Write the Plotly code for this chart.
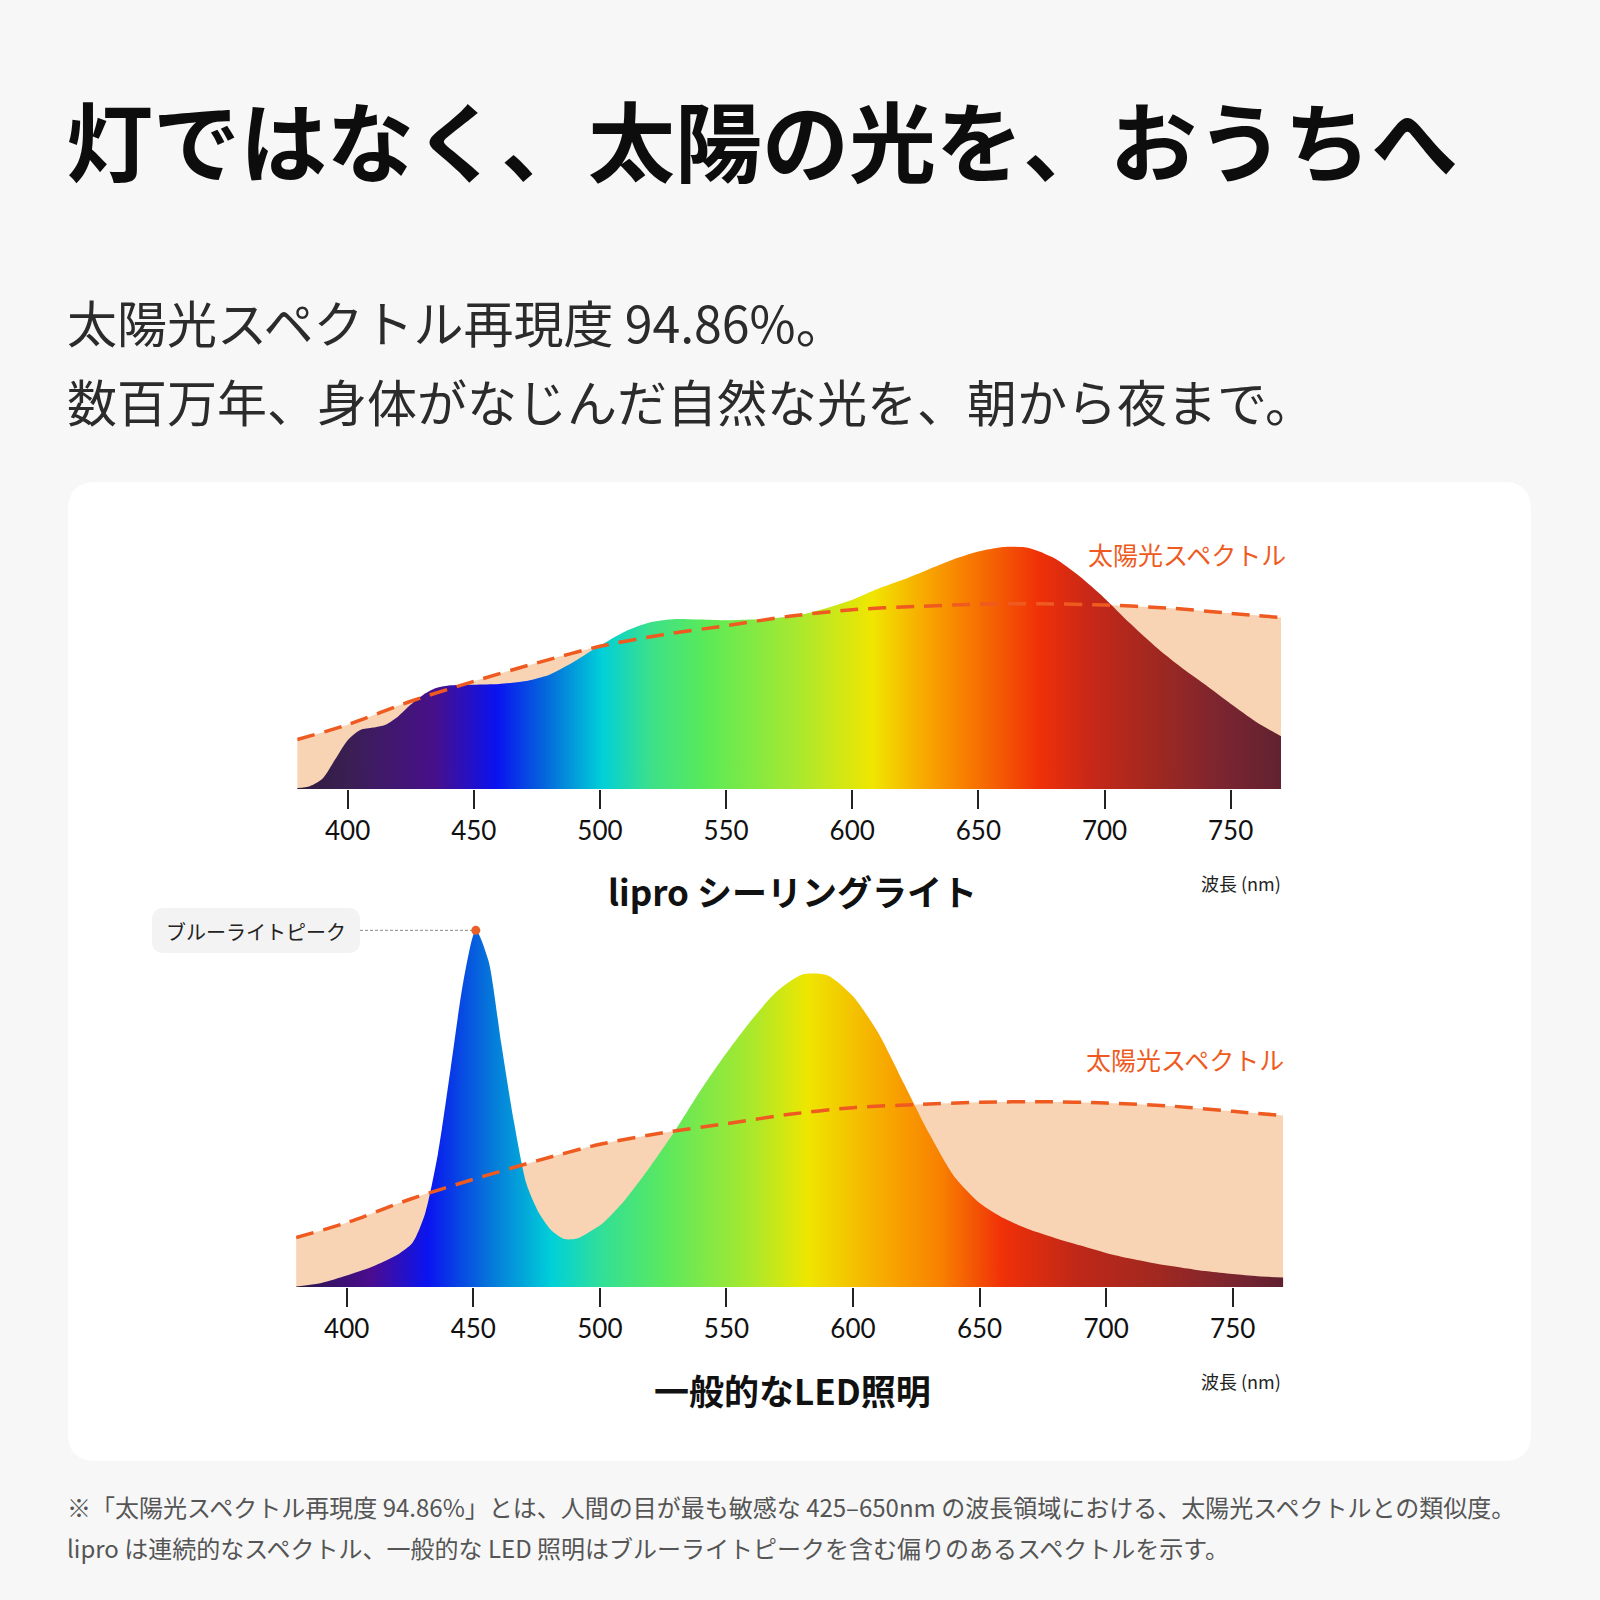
import plotly.graph_objects as go

# ---------------- data ----------------
wl_sun = [380, 400, 425, 450, 475, 500, 525, 550, 575, 600, 625, 650, 675, 700, 725, 750, 770]
sun = [26.8, 34.9, 47.6, 58.4, 68.4, 77.4, 83.7, 88.6, 93.7, 97.3, 99.0, 100.2, 100.5, 99.8, 98.2, 95.3, 93.0]

wl_lipro = [380, 385, 390, 395, 400, 405, 410, 415, 420, 425, 430, 435, 440, 450, 460, 470, 480, 490,
            500, 510, 520, 530, 540, 550, 560, 570, 580, 590, 600, 610, 620, 630, 640, 650, 660,
            670, 680, 690, 700, 710, 720, 730, 740, 750, 760, 770]
lipro = [0.5, 1.5, 5.5, 16.0, 26.5, 32.0, 33.3, 34.9, 39.4, 45.8, 51.2, 54.8, 56.2, 56.6, 57.0, 58.4, 62.0, 69.3,
         77.8, 85.5, 90.4, 92.2, 91.9, 91.5, 91.9, 92.8, 94.6, 98.2, 102.7, 108.5, 113.5, 119.0, 124.5, 128.8, 131.3,
         130.8, 125.3, 115.5, 103.5, 90.0, 77.5, 66.5, 56.5, 46.2, 36.5, 28.6]

wl_led = [380, 390, 400, 410, 420, 426, 431, 436, 441, 446, 451, 456, 461, 466, 471, 476, 481, 486, 491, 496,
          501, 510, 520, 530, 540, 550, 560, 570, 580, 590, 600, 610, 620, 630, 640, 650, 660, 670,
          680, 690, 700, 710, 720, 730, 740, 750, 760, 770]
led = [0.3, 2.2, 6.2, 11.0, 17.5, 24.0, 40.0, 72.0, 118.0, 165.0, 193.5, 177.0, 132.5, 90.0, 56.0, 40.0, 30.5, 26.0, 26.3, 30.0,
       34.5, 47.4, 65.5, 85.4, 107.1, 126.9, 145.0, 160.4, 169.5, 169.0, 157.7, 137.8, 110.7, 83.5, 60.0, 45.6, 37.0, 31.0,
       26.5, 22.5, 18.5, 15.3, 12.6, 10.5, 8.5, 7.0, 5.8, 5.1]

tick_vals = [400, 450, 500, 550, 600, 650, 700, 750]
tick_text = ["400", "450", "500", "550", "600", "650", "700", "750"]

# gradient stops (wavelength, colour)
grad_top = [(380, "#2e1c40"), (400, "#3a1f52"), (435, "#47108c"), (459, "#0a12f0"), (478, "#0566dc"),
            (501, "#00d0d8"), (520, "#3ce08a"), (542, "#5aea58"), (578, "#a8e830"), (608, "#f0e600"),
            (628, "#f8aa00"), (644, "#f88000"), (674, "#f03008"), (694, "#c82818"), (720, "#a02820"),
            (747, "#7a2530"), (770, "#622230")]
grad_bot = [(380, "#2a1848"), (410, "#4a0c90"), (432, "#0a14f0"), (455, "#0670da"), (481, "#00d0d8"),
            (502, "#34e094"), (525, "#5ae860"), (560, "#aae82c"), (582, "#eee600"), (615, "#f8a400"),
            (635, "#f88000"), (659, "#f03008"), (688, "#c02818"), (721, "#a02820"), (750, "#7a2530"),
            (770, "#602030")]

title = "灯ではなく、太陽の光を、おうちへ"
sub1 = "太陽光スペクトル再現度 94.86%。"
sub2 = "数百万年、身体がなじんだ自然な光を、朝から夜まで。"
chart1_name = "lipro シーリングライト"
chart2_name = "一般的なLED照明"
sun_label = "太陽光スペクトル"
axis_label = "波長 (nm)"
peak_label = "ブルーライトピーク"
note1 = "※「太陽光スペクトル再現度 94.86%」とは、人間の目が最も敏感な 425–650nm の波長領域における、太陽光スペクトルとの類似度。"
note2 = "lipro は連続的なスペクトル、一般的な LED 照明はブルーライトピークを含む偏りのあるスペクトルを示す。"

# ---------------- layout helpers ----------------
W = H = 1600
X = lambda p: p / W
Y = lambda p: 1 - p / H

CJK = "Noto Sans CJK JP"
ORANGE = "#ef5a20"
PEACH = "#f8d4b4"

XR = [380, 770]
YR1 = [0, 140]
YR2 = [0, 200]
dom_x1 = [X(297.2), X(1281.1)]
dom_x2 = [X(296.1), X(1283.3)]
dom_y1 = [Y(789), Y(789 - 140 * 1.8433)]
dom_y2 = [Y(1287), Y(1287 - 200 * 1.8433)]


def cscale(stops):
    lo, hi = XR
    return [[min(1.0, max(0.0, (w - lo) / (hi - lo))), c] for w, c in stops]


def rrect(x0, y0, x1, y1, r):
    return (f"M {X(x0 + r)},{Y(y0)} L {X(x1 - r)},{Y(y0)} Q {X(x1)},{Y(y0)} {X(x1)},{Y(y0 + r)} "
            f"L {X(x1)},{Y(y1 - r)} Q {X(x1)},{Y(y1)} {X(x1 - r)},{Y(y1)} "
            f"L {X(x0 + r)},{Y(y1)} Q {X(x0)},{Y(y1)} {X(x0)},{Y(y1 - r)} "
            f"L {X(x0)},{Y(y0 + r)} Q {X(x0)},{Y(y0)} {X(x0 + r)},{Y(y0)} Z")


fig = go.Figure()

for xa, ya, wl, vals, grad in [("x", "y", wl_lipro, lipro, grad_top), ("x2", "y2", wl_led, led, grad_bot)]:
    fig.add_trace(go.Scatter(x=wl_sun, y=sun, xaxis=xa, yaxis=ya, mode="lines", fill="tozeroy",
                             fillcolor=PEACH, line=dict(width=0, shape="spline", smoothing=0.8),
                             hoverinfo="skip", showlegend=False))
    fig.add_trace(go.Scatter(x=wl, y=vals, xaxis=xa, yaxis=ya, mode="lines", fill="tozeroy",
                             fillgradient=dict(type="horizontal", colorscale=cscale(grad), start=XR[0], stop=XR[1]),
                             line=dict(width=0, shape="spline", smoothing=0.7),
                             hoverinfo="skip", showlegend=False))
    fig.add_trace(go.Scatter(x=wl_sun, y=sun, xaxis=xa, yaxis=ya, mode="lines",
                             line=dict(width=3.5, color=ORANGE, dash="18px,10px", shape="spline", smoothing=0.8),
                             hoverinfo="skip", showlegend=False))

# blue-light peak marker and connector
pk = max(range(len(led)), key=lambda i: led[i])
box = (152, 908, 360, 953)
box_right_nm = XR[0] + (box[2] - 296.1) / (1283.3 - 296.1) * (XR[1] - XR[0])
fig.add_trace(go.Scatter(x=[box_right_nm, wl_led[pk]], y=[led[pk], led[pk]], xaxis="x2", yaxis="y2",
                         mode="lines", line=dict(width=1, color="#8a8a8a", dash="3px,2px"),
                         hoverinfo="skip", showlegend=False, cliponaxis=False))
fig.add_trace(go.Scatter(x=[wl_led[pk]], y=[led[pk]], xaxis="x2", yaxis="y2", mode="markers",
                         marker=dict(size=9, color="#e8602a"), hoverinfo="skip", showlegend=False,
                         cliponaxis=False))

axis_common = dict(range=XR, tickmode="array", tickvals=tick_vals, ticktext=tick_text, ticks="outside",
                   ticklen=19, tickwidth=1.5, tickcolor="#222", showgrid=False, zeroline=False, showline=False,
                   tickfont=dict(family="Lato", size=26, color="#111"), ticklabelstandoff=0, fixedrange=True)
fig.update_layout(
    width=W, height=H, margin=dict(l=0, r=0, t=0, b=0),
    paper_bgcolor="#f7f7f7", plot_bgcolor="rgba(0,0,0,0)",
    xaxis=dict(domain=dom_x1, anchor="y", **axis_common),
    yaxis=dict(domain=dom_y1, range=YR1, visible=False, anchor="x"),
    xaxis2=dict(domain=dom_x2, anchor="y2", **axis_common),
    yaxis2=dict(domain=dom_y2, range=YR2, visible=False, anchor="x2"),
    showlegend=False,
)

shapes = [
    dict(type="path", xref="paper", yref="paper", path=rrect(68, 482, 1531, 1461, 28),
         fillcolor="#ffffff", line=dict(width=0), layer="below"),
    dict(type="path", xref="paper", yref="paper", path=rrect(*box, 12),
         fillcolor="#f3f3f3", line=dict(width=0), layer="below"),
]
fig.update_layout(shapes=shapes)


def txt(s, x, y, size, color="#111", weight=400, xanchor="left", family=CJK):
    return dict(text=s, x=X(x), y=Y(y), xref="paper", yref="paper", xanchor=xanchor, yanchor="middle",
                showarrow=False, font=dict(family=family, size=size, color=color, weight=weight))


ann = [
    txt(title, 64, 138, 87, "#0d0d0d", 700),
    txt(sub1, 65, 321, 50, "#2b2b2b", 400),
    txt(sub2, 65, 400, 50, "#2b2b2b", 400),
    txt(sun_label, 1288, 554, 25, ORANGE, 400, "right"),
    txt(sun_label, 1286, 1059, 25, ORANGE, 400, "right"),
    txt(chart1_name, 792, 890, 35, "#111", 700, "center"),
    txt(chart2_name, 792, 1389, 35, "#111", 700, "center"),
    txt(axis_label, 1283, 883, 18, "#222", 400, "right"),
    txt(axis_label, 1283, 1381, 18, "#222", 400, "right"),
    txt(peak_label, 256, 931, 20, "#222", 400, "center"),
    txt(note1, 65, 1506, 24, "#555", 400),
    txt(note2, 65, 1547, 24, "#555", 400),
]
fig.update_layout(annotations=ann)

fig.write_html("out.html")
